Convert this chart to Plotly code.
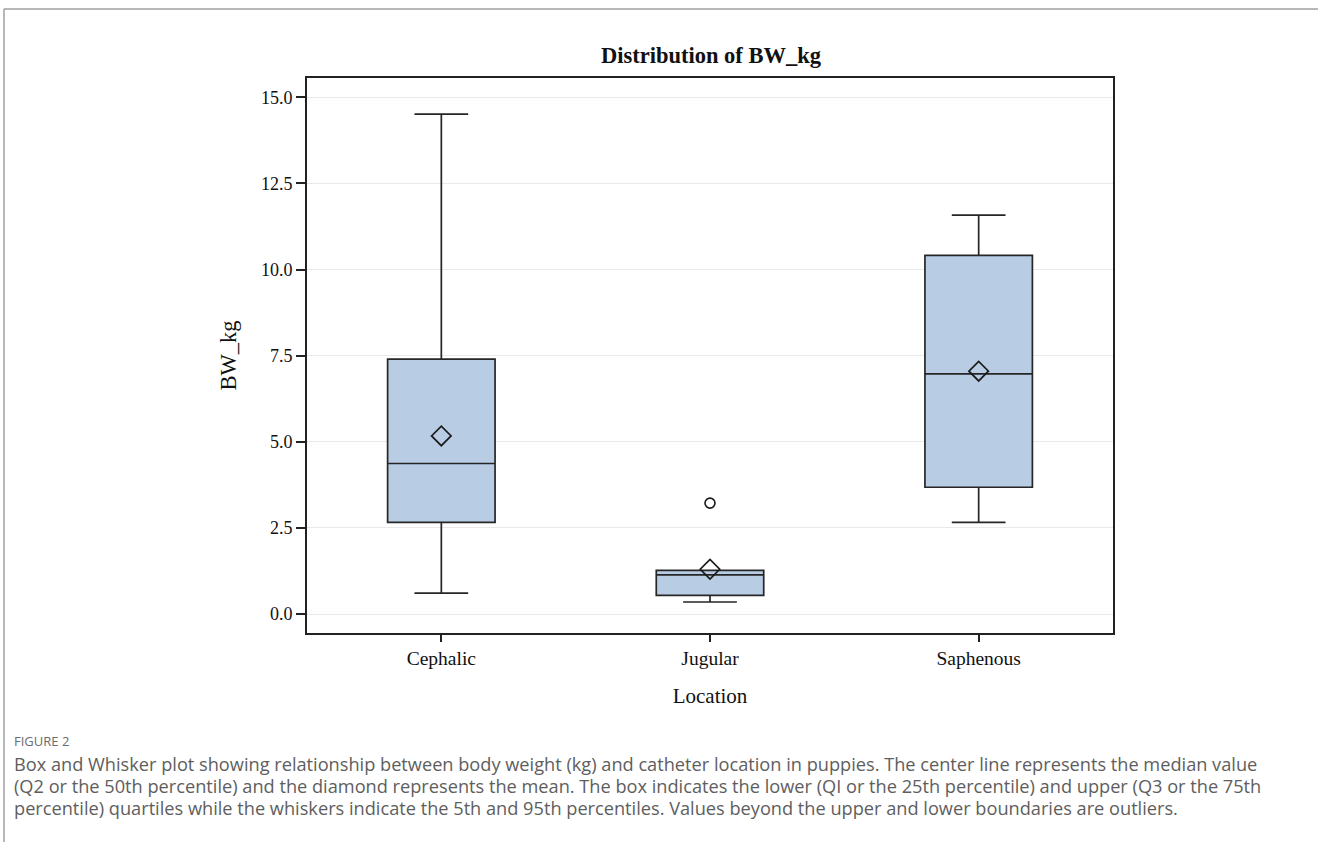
import plotly.graph_objects as go

# ---- data ----
locations = ["Cephalic", "Jugular", "Saphenous"]
q1 = [2.66, 0.54, 3.68]
median = [4.37, 1.14, 6.97]
q3 = [7.40, 1.27, 10.41]
lower_whisker = [0.61, 0.35, 2.66]
upper_whisker = [14.51, 1.27, 11.58]
mean = [5.17, 1.30, 7.05]
outlier_loc = ["Jugular"]
outlier_val = [3.22]

y_ticks = [0.0, 2.5, 5.0, 7.5, 10.0, 12.5, 15.0]

W, H = 1318, 842
L, R, T, B = 307, 1113, 78, 633

def px(x):
    return (x - L) / (R - L)

def py(y):
    return (B - y) / (B - T)

fig = go.Figure()
for i, loc in enumerate(locations):
    fig.add_trace(go.Box(
        x=[loc], q1=[q1[i]], median=[median[i]], q3=[q3[i]],
        lowerfence=[lower_whisker[i]], upperfence=[upper_whisker[i]],
        width=0.4, whiskerwidth=0.5,
        fillcolor="#b8cce4", line=dict(color="#262626", width=1.7),
        boxpoints=False, showlegend=False, hoverinfo="skip",
    ))

fig.add_trace(go.Scatter(
    x=locations, y=mean, mode="markers", showlegend=False,
    marker=dict(symbol="diamond-open", size=15, color="#1a1a1a",
                line=dict(width=1.7, color="#1a1a1a")),
))
fig.add_trace(go.Scatter(
    x=outlier_loc, y=outlier_val, mode="markers", showlegend=False,
    marker=dict(symbol="circle-open", size=10, color="#1a1a1a",
                line=dict(width=1.6, color="#1a1a1a")),
))

serif = "Liberation Serif"
fig.update_layout(
    width=W, height=H,
    margin=dict(l=L, r=W - R, t=T, b=H - B, pad=0),
    paper_bgcolor="white", plot_bgcolor="white",
    font=dict(family=serif, color="#111"),
    title=dict(text="<b>Distribution of BW_kg</b>", x=px(711), xref="paper",
               xanchor="center", y=1 - 55 / H, yanchor="middle",
               font=dict(family=serif, size=22.5, color="#111")),
    xaxis=dict(
        type="category", categoryorder="array", categoryarray=locations,
        range=[-0.5, 2.5],
        showline=True, linecolor="#222", linewidth=1.8, mirror=True,
        ticks="outside", ticklen=7, tickcolor="#222", tickwidth=1.5,
        showgrid=False, tickfont=dict(family=serif, size=19.5, color="#111"),
        title=dict(text="Location", font=dict(family=serif, size=21, color="#111"),
                   standoff=20),
    ),
    yaxis=dict(
        range=[-0.55, 15.56], tickvals=y_ticks,
        ticktext=[f"{v:.1f}" for v in y_ticks],
        showline=True, linecolor="#222", linewidth=1.8, mirror=True,
        ticks="outside", ticklen=9, tickcolor="#222", tickwidth=1.5,
        showgrid=True, gridcolor="#e9e9e9", gridwidth=1.2, zeroline=False,
        tickfont=dict(family=serif, size=18, color="#111"),
        title=dict(text="BW_kg", font=dict(family=serif, size=22.5, color="#111"),
                   standoff=18),
    ),
)

# outer figure frame (top and left)
fig.add_shape(type="line", xref="paper", yref="paper",
              x0=px(4), x1=px(1318), y0=py(9), y1=py(9),
              line=dict(color="#a0a0a0", width=1.5))
fig.add_shape(type="line", xref="paper", yref="paper",
              x0=px(4), x1=px(4), y0=py(9), y1=py(842),
              line=dict(color="#a0a0a0", width=1.5))

sans = "Open Sans"
fig.add_annotation(text="FIGURE 2", xref="paper", yref="paper",
                   x=px(12), y=py(741), xanchor="left", yanchor="middle",
                   showarrow=False, font=dict(family=sans, size=13, color="#6b6b6b"))
caption = [
    "Box and Whisker plot showing relationship between body weight (kg) and catheter location in puppies. The center line represents the median value",
    "(Q2 or the 50th percentile) and the diamond represents the mean. The box indicates the lower (QI or the 25th percentile) and upper (Q3 or the 75th",
    "percentile) quartiles while the whiskers indicate the 5th and 95th percentiles. Values beyond the upper and lower boundaries are outliers.",
]
for k, line in enumerate(caption):
    fig.add_annotation(text=line, xref="paper", yref="paper",
                       x=px(12), y=py(764 + 22 * k), xanchor="left", yanchor="middle",
                       showarrow=False, font=dict(family=sans, size=18.2, color="#5e5e5e"))

fig.write_html("out.html", config={"displayModeBar": False},
               post_script="document.body.style.margin='0';document.body.style.overflow='hidden';")
